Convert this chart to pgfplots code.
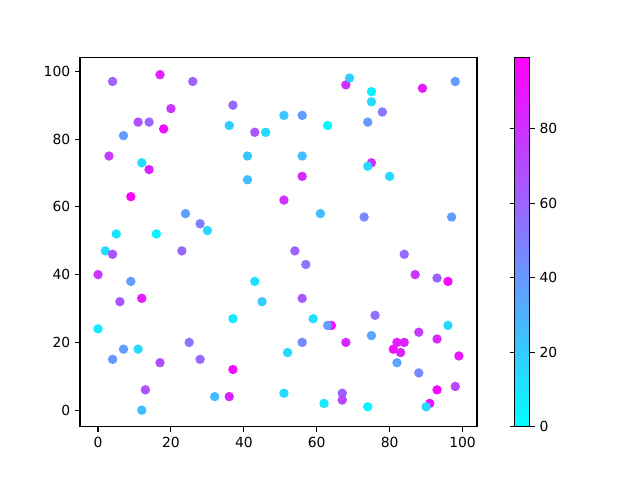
\documentclass[border=0pt]{standalone}
\usepackage{fontspec}
\setmainfont{DejaVu Sans}
\usepackage{pgfplots}
\usepackage{pgfplotstable}
\pgfplotsset{compat=1.18}

\pgfplotstableread{
x y c
4 97 60
17 99 85
26 97 60
20 89 78
37 90 58
11 85 68
14 85 60
18 83 93
36 84 20
43 82 65
46 82 15
7 81 38
3 75 75
12 73 15
14 71 85
41 75 22
41 68 25
9 63 97
24 58 38
28 55 50
30 53 15
5 52 10
16 52 5
68 96 80
69 98 18
75 94 5
75 91 15
89 95 88
98 97 38
51 87 22
56 87 38
78 88 52
63 84 3
74 85 40
56 75 25
75 73 80
74 72 15
80 69 15
56 69 82
51 62 80
61 58 25
73 57 45
97 57 38
2 47 15
4 46 65
23 47 58
0 40 78
9 38 38
43 38 12
6 32 65
12 33 88
45 32 20
37 27 8
0 24 8
25 20 55
7 18 38
11 18 15
4 15 40
17 14 68
28 15 58
37 12 92
13 6 68
32 4 25
36 4 85
12 0 25
54 47 60
57 43 52
84 46 58
87 40 78
93 39 60
96 38 95
56 33 65
59 27 12
76 28 55
64 25 95
63 25 38
96 25 15
75 22 35
88 23 75
93 21 82
56 20 45
68 20 82
82 20 88
84 20 85
81 18 92
83 17 85
52 17 15
99 16 90
82 14 35
88 11 45
98 7 72
93 6 95
51 5 15
67 5 62
67 3 72
62 2 8
91 2 92
90 1 15
74 1 3
}\pts

\begin{document}
\begin{tikzpicture}
\path[use as bounding box] (0,0) rectangle (460.8pt,345.6pt);
\begin{axis}[
    at={(57.6pt,38.2pt)}, anchor=south west,
    scale only axis, width=285.8pt, height=265.7pt,
    xmin=-4.95, xmax=103.95, ymin=-4.95, ymax=103.95,
    xtick={0,20,...,100}, ytick={0,20,...,100},
    tick pos=left, tick align=outside,
    major tick length=3.5pt,
    every tick/.style={black, line width=0.8pt},
    axis line style={line width=0.8pt},
    /pgf/number format/assume math mode=true,
    tick label style={font=\fontsize{10}{12}\selectfont},
    colormap={cool}{rgb=(0,1,1) rgb=(1,0,1)},
    point meta min=0, point meta max=99,
    colorbar,
    colorbar style={
        scale only axis, width=10.8pt, height=265.7pt,
        at={(parent axis.north east)}, anchor=north west, xshift=18.7pt,
        ytick={0,20,40,60,80},
        tick align=outside, major tick length=3.5pt,
        every tick/.style={black, line width=0.8pt},
        axis line style={line width=0.8pt},
        /pgf/number format/assume math mode=true,
        tick label style={font=\fontsize{10}{12}\selectfont},
    },
]
\addplot[scatter, only marks, mark=*, mark size=3.4pt,
    scatter src=explicit,
    scatter/use mapped color={draw opacity=0, fill=mapped color}]
    table[x=x, y=y, meta=c] {\pts};
\end{axis}
\end{tikzpicture}
\end{document}
